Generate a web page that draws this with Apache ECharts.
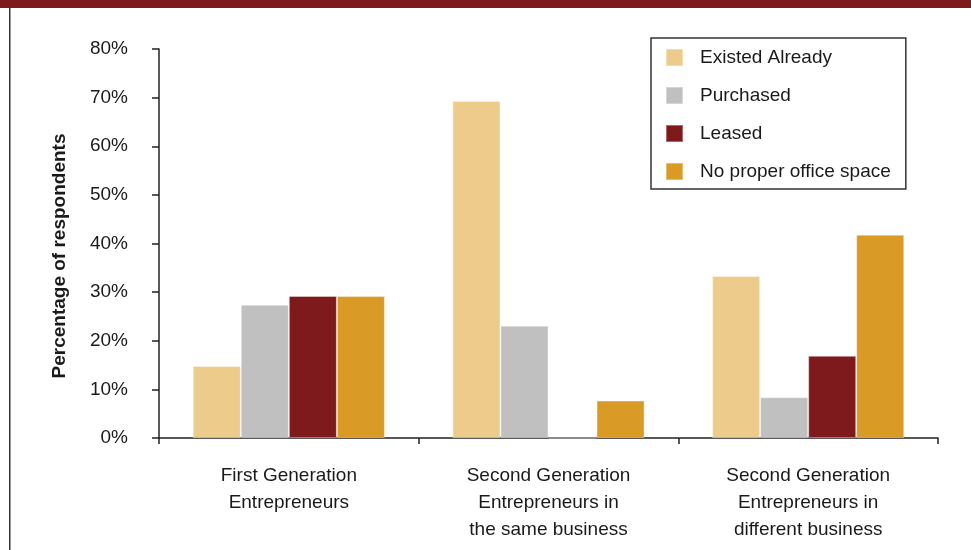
<!DOCTYPE html>
<html>
<head>
<meta charset="utf-8">
<script src="https://cdn.jsdelivr.net/npm/echarts@6/dist/echarts.min.js"></script>
<style>
  html, body { margin: 0; padding: 0; background: #fff; }
  #chart { width: 971px; height: 550px; }
</style>
</head>
<body>
<div id="chart"></div>
<script>
// Office space arrangements by entrepreneur type (% of respondents)
const categories = [
  'First Generation\nEntrepreneurs',
  'Second Generation\nEntrepreneurs in\nthe same business',
  'Second Generation\nEntrepreneurs in\ndifferent business'
];
const seriesNames = ['Existed Already', 'Purchased', 'Leased', 'No proper office space'];
const existedAlready = [14.8, 69.3, 33.3];
const purchased = [27.4, 23.1, 8.4];
const leased = [29.2, 0, 16.9];
const noProperOffice = [29.2, 7.7, 41.8];
const yTicks = [0, 10, 20, 30, 40, 50, 60, 70, 80];

const colors = ['#EDCB8B', '#C0C0C0', '#7F1A1C', '#DA9A26'];
const values = [existedAlready, purchased, leased, noProperOffice];
const FONT = 'Liberation Sans';
const INK = '#1a1a1a';

const chart = echarts.init(document.getElementById('chart'), null, { renderer: 'canvas' });

chart.setOption({
  animation: false,
  backgroundColor: '#fff',
  textStyle: { fontFamily: FONT, color: INK },
  graphic: [
    // maroon band across the top
    { type: 'rect', left: 0, top: 0, shape: { width: 971, height: 8 }, style: { fill: '#7F1A1C' } },
    // frame rule on the left
    { type: 'rect', left: 9, top: 8, shape: { width: 1.5, height: 542 }, style: { fill: '#333' } }
  ],
  grid: { left: 159, right: 33, top: 49, bottom: 112, containLabel: false },
  legend: {
    orient: 'vertical',
    left: 651,
    top: 38,
    padding: [10, 15, 8, 14],
    itemWidth: 17,
    itemHeight: 17,
    itemGap: 19,
    borderColor: '#333',
    borderWidth: 1.5,
    icon: 'rect',
    data: seriesNames,
    textStyle: { fontFamily: FONT, fontSize: 19, color: INK, padding: [0, 0, 0, 12] }
  },
  xAxis: {
    type: 'category',
    data: categories,
    axisLine: { lineStyle: { color: '#222', width: 1.5 } },
    axisTick: { show: true, length: 6, lineStyle: { color: '#222', width: 1.5 } },
    axisLabel: {
      interval: 0,
      margin: 24,
      fontFamily: FONT,
      fontSize: 19,
      lineHeight: 27,
      color: INK,
      align: 'center'
    }
  },
  yAxis: {
    type: 'value',
    min: yTicks[0],
    max: yTicks[yTicks.length - 1],
    interval: 10,
    name: 'Percentage of respondents',
    nameLocation: 'middle',
    nameGap: 90,
    nameTextStyle: {
      fontFamily: FONT, fontSize: 19, fontWeight: 'bold', color: INK,
      padding: [0, 25, 0, 0]
    },
    axisLine: { show: true, lineStyle: { color: '#222', width: 1.5 } },
    axisTick: { show: true, length: 7, lineStyle: { color: '#222', width: 1.5 } },
    splitLine: { show: false },
    axisLabel: {
      margin: 31,
      fontFamily: FONT,
      fontSize: 19,
      color: INK,
      formatter: '{value}%'
    }
  },
  series: seriesNames.map((name, i) => ({
    name,
    type: 'bar',
    data: values[i],
    barGap: '0%',
    barCategoryGap: '26%',
    itemStyle: { color: colors[i], borderColor: 'rgba(255,255,255,0.35)', borderWidth: 1 }
  }))
});
</script>
</body>
</html>
